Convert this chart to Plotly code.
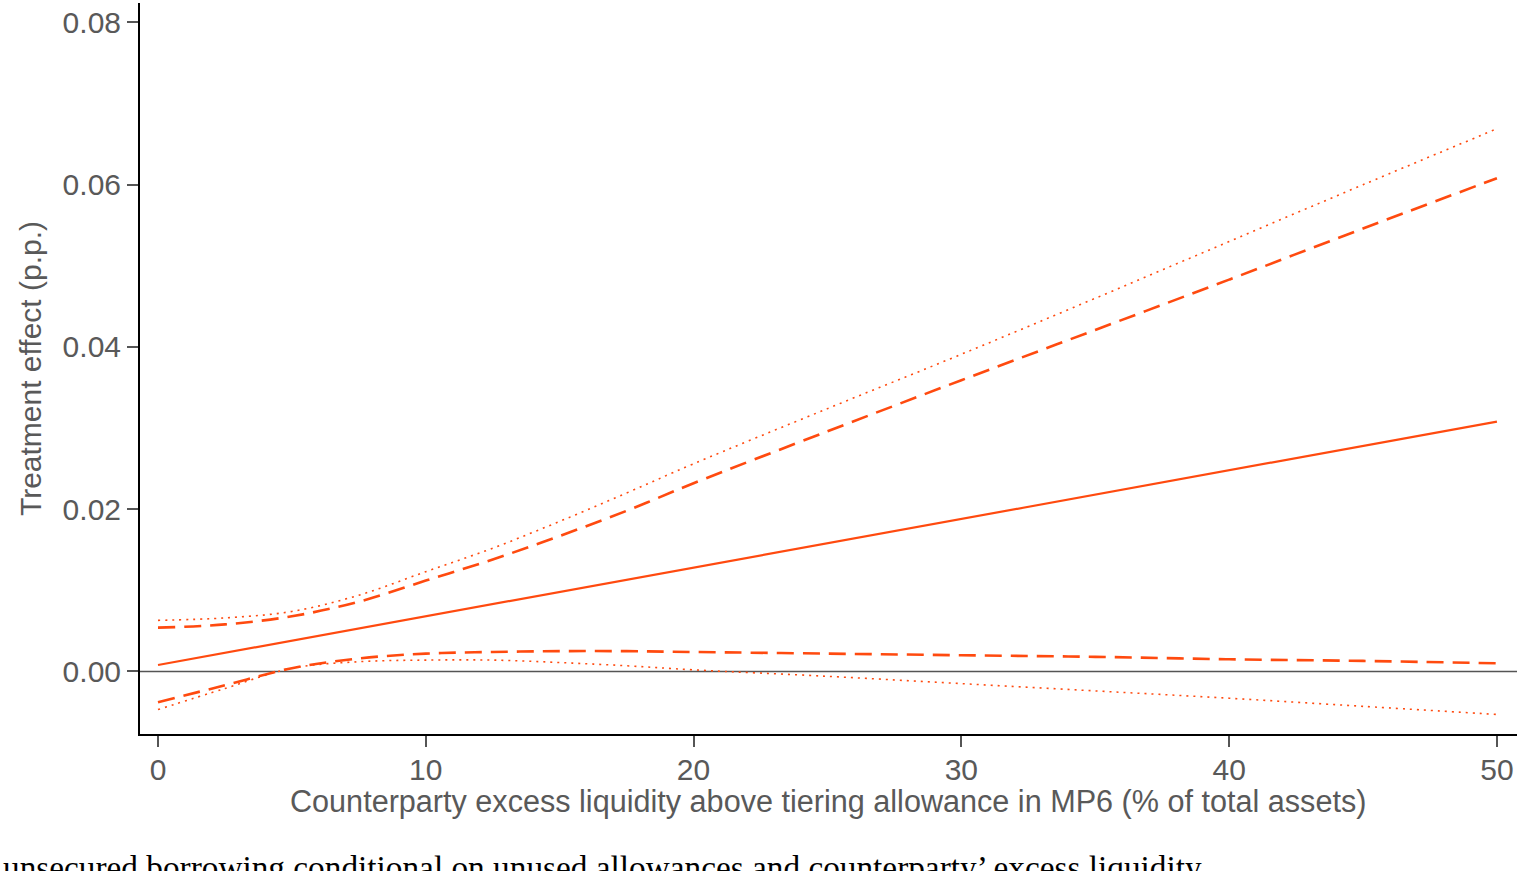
import plotly.graph_objects as go

x = [0, 2.5, 5, 7.5, 10, 12.5, 15, 17.5, 20, 25, 30, 35, 40, 45, 50]
effect = [0.0008, 0.0023, 0.0038, 0.0053, 0.0068, 0.0083, 0.0098, 0.0113, 0.0128, 0.0158, 0.0188, 0.0218, 0.0248, 0.0278, 0.0308]
upper_95 = [0.0054, 0.0058, 0.0068, 0.0086, 0.0112, 0.0138, 0.0167, 0.0198, 0.0232, 0.0296, 0.0359, 0.0421, 0.0483, 0.0546, 0.0608]
lower_95 = [-0.0038, -0.0017, 0.0004, 0.0016, 0.0022, 0.0024, 0.0025, 0.0025, 0.0024, 0.0022, 0.0020, 0.0018, 0.0015, 0.0013, 0.0010]
upper_99 = [0.0063, 0.0066, 0.0074, 0.0094, 0.0123, 0.0152, 0.0185, 0.0220, 0.0256, 0.0324, 0.0391, 0.0460, 0.0530, 0.0600, 0.0669]
lower_99 = [-0.0047, -0.0021, 0.0004, 0.0012, 0.0014, 0.0014, 0.0011, 0.0007, 0.0002, -0.0006, -0.0015, -0.0024, -0.0033, -0.0043, -0.0053]

x_ticks = [0, 10, 20, 30, 40, 50]
y_ticks = [0.00, 0.02, 0.04, 0.06, 0.08]
y_tick_labels = ["0.00", "0.02", "0.04", "0.06", "0.08"]
x_title = "Counterparty excess liquidity above tiering allowance in MP6 (% of total assets)"
y_title = "Treatment effect (p.p.)"
caption = "unsecured borrowing conditional on unused allowances and counterparty\u2019 excess liquidity"

C = "#FF4A0F"
fig = go.Figure()
fig.add_trace(go.Scatter(x=[-1, 52], y=[0, 0], mode="lines", line=dict(color="#555555", width=1.5), hoverinfo="skip"))
fig.add_trace(go.Scatter(x=x, y=upper_99, mode="lines", line=dict(color=C, width=1.6, dash="2px,5px", shape="spline")))
fig.add_trace(go.Scatter(x=x, y=lower_99, mode="lines", line=dict(color=C, width=1.6, dash="2px,5px", shape="spline")))
fig.add_trace(go.Scatter(x=x, y=upper_95, mode="lines", line=dict(color=C, width=2.6, dash="17px,9px", shape="spline")))
fig.add_trace(go.Scatter(x=x, y=lower_95, mode="lines", line=dict(color=C, width=2.6, dash="17px,9px", shape="spline")))
fig.add_trace(go.Scatter(x=x, y=effect, mode="lines", line=dict(color=C, width=2.2)))

font = dict(family="Liberation Sans, Arial, sans-serif", size=30, color="#595959")
fig.update_layout(
    width=1534, height=871,
    margin=dict(l=140, r=17, t=3, b=137),
    paper_bgcolor="white", plot_bgcolor="white",
    showlegend=False,
    font=font,
    xaxis=dict(range=[-0.672, 50.75], tickvals=x_ticks, ticks="outside", ticklen=11, tickwidth=1.5,
               tickcolor="#555555", showline=True, linecolor="black", linewidth=2, showgrid=False,
               zeroline=False, tickfont=font, ticklabelstandoff=-3),
    yaxis=dict(range=[-0.00771, 0.0824], tickvals=y_ticks, ticktext=y_tick_labels, ticks="outside", ticklen=11,
               tickwidth=1.5, tickcolor="#555555", showline=True, linecolor="black", linewidth=2,
               showgrid=False, zeroline=False, tickfont=font,
               title=dict(text=y_title, font=font, standoff=12)),
)
fig.add_annotation(text=x_title, xref="x", yref="paper", x=(290 + 1366) / 2 / 26.78 - 158 / 26.78,
                   y=-0.0917, xanchor="center", yanchor="middle", showarrow=False,
                   font=dict(family="Liberation Sans, Arial, sans-serif", size=30.6, color="#595959"))
fig.add_annotation(text=caption,
                   xref="paper", yref="paper", x=-0.101, y=-0.155, xanchor="left", yanchor="top",
                   showarrow=False, font=dict(family="Liberation Serif, DejaVu Serif, serif", size=33.3, color="black"))
fig.write_html("out.html")
